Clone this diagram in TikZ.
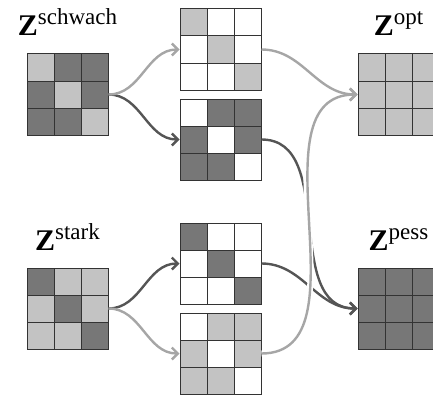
\documentclass[tikz,border=0pt]{standalone}
\usepackage{fontspec}
\newfontfamily\labelfont{Liberation Serif}
\usetikzlibrary{arrows.meta}

\definecolor{celldark}{HTML}{777777}
\definecolor{celllight}{HTML}{C3C3C3}
\definecolor{gridcol}{HTML}{333333}
\definecolor{flowdark}{HTML}{555555}
\definecolor{flowlight}{HTML}{A6A6A6}

\tikzset{
  matrixbox/.style={draw=gridcol, line width=1pt, minimum size=81pt, inner sep=0pt},
  gridline/.style={draw=gridcol, line width=1pt},
  flow/.style={line width=2.4pt, -{Straight Barb[length=6pt,width=12pt]}, out=0, in=180},
  flowd/.style={flow, draw=flowdark},
  flowl/.style={flow, draw=flowlight},
  halo/.style={preaction={draw=white, line width=6pt}},
  title/.style={anchor=base, inner sep=0pt},
  D/.style={fill=celldark},
  L/.style={fill=celllight},
  W/.style={fill=white},
}

% a 3x3 grid of cells: name, centre x, centre y, nine cell styles row by row
\newcommand\cellgrid[4]{%
  \foreach \c [count=\i from 0] in {#4} {
    \pgfmathtruncatemacro\row{div(\i,3)}
    \pgfmathtruncatemacro\col{mod(\i,3)}
    \fill[\c] (#2-40.5+\col*27, #3-40.5+\row*27) rectangle ++(27,27);
  }
  \foreach \k in {1,2} {
    \draw[gridline] (#2-40.5+\k*27, #3-40.5) -- ++(0,81);
    \draw[gridline] (#2-40.5, #3-40.5+\k*27) -- ++(81,0);
  }
  \node[matrixbox] (#1) at (#2,#3) {};
}

\newcommand\zlabel[1]{{\fontsize{30}{32}\selectfont\labelfont\bfseries Z}\raisebox{11pt}{\fontsize{23}{25}\selectfont\labelfont #1}}

\begin{document}
\begin{tikzpicture}[x=1pt, y=-1pt]
\useasboundingbox (0,0) rectangle (433,396);

% matrices
\cellgrid{schwach}{67.5}{94.5}{L,D,D,D,L,D,D,D,L}
\cellgrid{stark}{67.5}{308.5}{D,L,L,L,D,L,L,L,D}
\cellgrid{sa}{220.5}{49.5}{L,W,W,W,L,W,W,W,L}
\cellgrid{sb}{220.5}{139.5}{W,D,D,D,W,D,D,D,W}
\cellgrid{ta}{220.5}{263.5}{D,W,W,W,D,W,W,W,D}
\cellgrid{tb}{220.5}{353.5}{W,L,L,L,W,L,L,L,W}
\cellgrid{opt}{398.5}{94.5}{L,L,L,L,L,L,L,L,L}
\cellgrid{pess}{398.5}{308.5}{D,D,D,D,D,D,D,D,D}

% titles
\node[title] (tschwach) at (67.5,36) {\zlabel{schwach}};
\node[title] (tstark) at (67.5,250) {\zlabel{stark}};
\node[title] (topt) at (398.5,36) {\zlabel{opt}};
\node[title] (tpess) at (398.5,250) {\zlabel{pess}};

% dark flows
\draw[flowd] (schwach.east) to (sb.west);
\draw[flowd] (stark.east) to (ta.west);
\draw[flowd] (sb.east) to (pess.west);
\draw[flowd] (ta.east) to (pess.west);

% light flows
\draw[flowl] (schwach.east) to (sa.west);
\draw[flowl] (stark.east) to (tb.west);
\draw[flowl, halo] (tb.east) to (opt.west);
\draw[flowl] (sa.east) to (opt.west);
\end{tikzpicture}
\end{document}
